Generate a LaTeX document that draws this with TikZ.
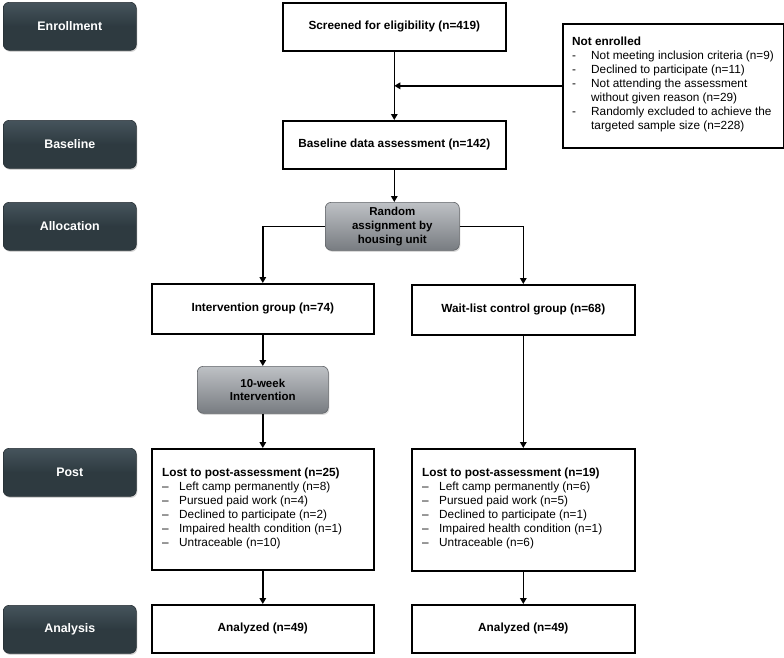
\documentclass[tikz,border=0pt]{standalone}
\usepackage{fontspec}
\setmainfont{Liberation Sans}
\usetikzlibrary{arrows.meta,shadows}
\definecolor{stagefill}{RGB}{46,58,64}
\definecolor{stagetop}{RGB}{70,84,92}
\definecolor{graytop}{RGB}{190,193,197}
\definecolor{graybot}{RGB}{120,124,129}
\tikzset{
  stagebox/.style={draw=stagefill!80!black, line width=0.6pt, rounded corners=6pt,
    top color=stagetop, bottom color=stagefill, middle color=stagefill,
    minimum width=133pt, minimum height=48pt, anchor=north west,
    text=white, font=\fontsize{12.4}{14}\selectfont\bfseries,
    drop shadow={shadow xshift=1pt, shadow yshift=-1.5pt, opacity=0.35}},
  flowbox/.style={draw=black, line width=1.6pt, fill=white, anchor=north west,
    inner sep=0pt, font=\fontsize{11.8}{13.7}\selectfont\bfseries},
  graybox/.style={draw=graybot!80!black, line width=0.6pt, rounded corners=6pt,
    top color=graytop, bottom color=graybot, anchor=north west, align=center,
    font=\fontsize{11.5}{13.8}\selectfont\bfseries,
    drop shadow={shadow xshift=1pt, shadow yshift=-1.5pt, opacity=0.3}},
  listtext/.style={anchor=north west, inner sep=0pt, align=left,
    font=\fontsize{11.8}{13.9}\selectfont},
  arr/.style={line width=1.6pt, -{Triangle[length=6pt,width=6.5pt]}}
}
\newcommand{\litem}[1]{\makebox[17pt][l]{\textendash}#1}
\newcommand{\hitem}[1]{\makebox[19pt][l]{-}#1}
\begin{document}
\begin{tikzpicture}[x=1pt,y=-1pt]
\useasboundingbox (0,0) rectangle (784,657);
% stage labels
\node[stagebox] (s1) at (3,2) {Enrollment};
\node[stagebox] (s2) at (3,120) {Baseline};
\node[stagebox] (s3) at (3,202) {Allocation};
\node[stagebox] (s4) at (3,448) {Post};
\node[stagebox] (s5) at (3,605) {Analysis};
% main flow
\node[flowbox, minimum width=223pt, minimum height=48pt] (scr) at (282,2) {Screened for eligibility (n=419)};
\node[flowbox, minimum width=223pt, minimum height=48pt] (base) at (282,120) {Baseline data assessment (n=142)};
\node[flowbox, minimum width=221pt, minimum height=124pt] (ne) at (562,23) {};
\node[listtext] (netext) at (572,37) {\textbf{Not enrolled}\\
\hitem{Not meeting inclusion criteria (n=9)}\\
\hitem{Declined to participate (n=11)}\\
\hitem{Not attending the assessment}\\
\hspace*{19pt}without given reason (n=29)\\
\hitem{Randomly excluded to achieve the}\\
\hspace*{19pt}targeted sample size (n=228)};
\node[graybox, minimum width=134pt, minimum height=48pt, inner sep=1pt] (rand) at (325,202) {Random\\assignment by\\housing unit};
\node[flowbox, minimum width=222pt, minimum height=50pt] (int) at (151,283) {Intervention group (n=74)};
\node[flowbox, minimum width=223pt, minimum height=50pt] (wait) at (411,284) {Wait-list control group (n=68)};
\node[graybox, minimum width=131pt, minimum height=47pt, inner sep=1pt] (ten) at (197,366) {10-week\\Intervention};
\node[flowbox, minimum width=222pt, minimum height=121pt] (postl) at (151,448) {};
\node[listtext] (postltext) at (162,468) {\textbf{Lost to post-assessment (n=25)}\\
\litem{Left camp permanently (n=8)}\\
\litem{Pursued paid work (n=4)}\\
\litem{Declined to participate (n=2)}\\
\litem{Impaired health condition (n=1)}\\
\litem{Untraceable (n=10)}};
\node[flowbox, minimum width=223pt, minimum height=122pt] (postr) at (411,448) {};
\node[listtext] (postrtext) at (422,468) {\textbf{Lost to post-assessment (n=19)}\\
\litem{Left camp permanently (n=6)}\\
\litem{Pursued paid work (n=5)}\\
\litem{Declined to participate (n=1)}\\
\litem{Impaired health condition (n=1)}\\
\litem{Untraceable (n=6)}};
\node[flowbox, minimum width=222pt, minimum height=48pt] (anl) at (151,604) {Analyzed (n=49)};
\node[flowbox, minimum width=223pt, minimum height=48pt] (anr) at (411,604) {Analyzed (n=49)};
% connectors
\draw[arr] (scr.south) -- (base.north);
\draw[arr] (ne.west) -- (ne.west -| scr.south);
\draw[arr] (base.south) -- (base.south |- rand.north);
\draw[arr] (rand.west) -| (int.north);
\draw[arr] (rand.east) -| (wait.north);
\draw[arr] (int.south) -- (int.south |- ten.north);
\draw[arr] (ten.south) -- (ten.south |- postl.north);
\draw[arr] (wait.south) -- (postr.north);
\draw[arr] (postl.south) -- (postl.south |- anl.north);
\draw[arr] (postr.south) -- (postr.south |- anr.north);
\end{tikzpicture}
\end{document}
